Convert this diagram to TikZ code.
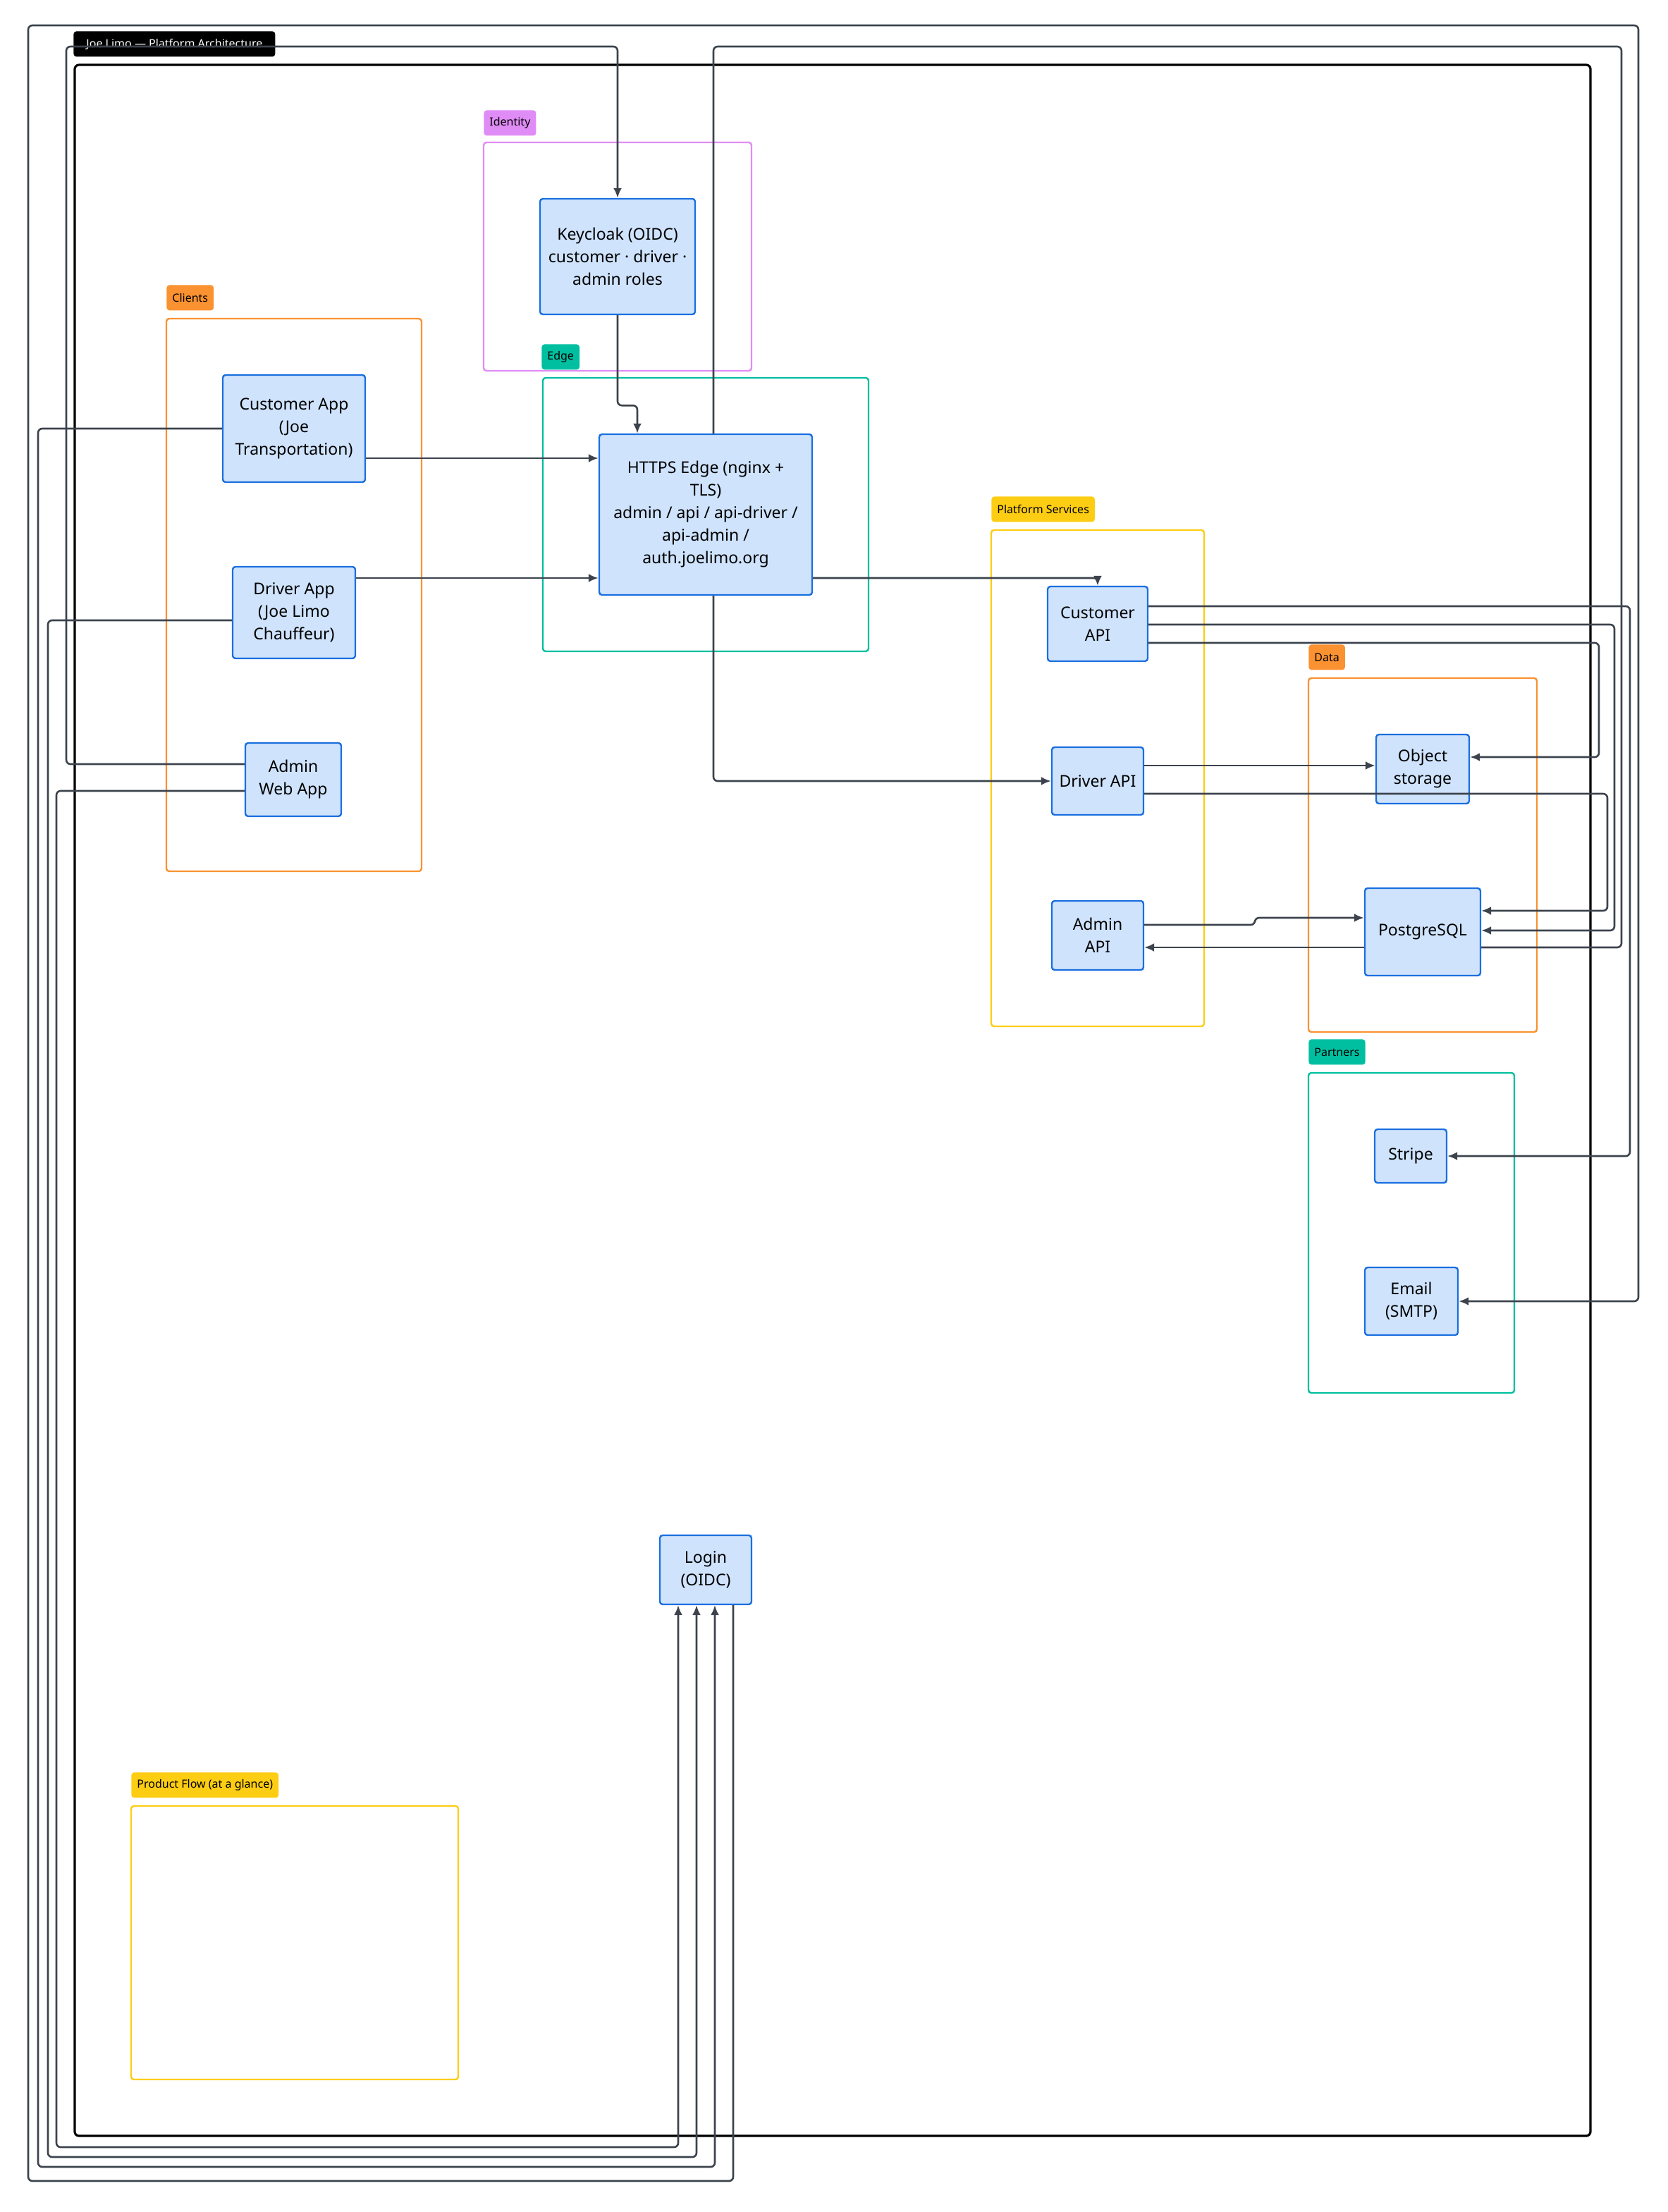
\documentclass[tikz,border=0pt]{standalone}
\usepackage{fontspec}
\setmainfont{Noto Sans}
\usepackage{tikz}
\usetikzlibrary{arrows.meta}
\definecolor{nodeFill}{HTML}{CFE3FC}
\definecolor{nodeLine}{HTML}{1A6FE0}
\definecolor{wireGray}{HTML}{3C434D}
\definecolor{grpOrange}{HTML}{FB9231}
\definecolor{grpPink}{HTML}{E08CF6}
\definecolor{grpTeal}{HTML}{00BFA0}
\definecolor{grpYellow}{HTML}{FDCD14}

\begin{document}
\begin{tikzpicture}[
  x=1pt, y=1pt,
  svc/.style={
    draw=nodeLine, fill=nodeFill, line width=1.2pt,
    rounded corners=2pt, align=center, inner sep=0pt,
    font=\fontsize{11.5}{16}\selectfont
  },
  group/.style={draw=#1, line width=1.2pt, rounded corners=2pt},
  tag/.style={
    fill=#1, rounded corners=2pt, anchor=north west,
    inner xsep=4pt, minimum height=18pt,
    font=\fontsize{8}{10}\selectfont
  },
  wire/.style={draw=wireGray, line width=1.3pt, rounded corners=3pt},
  link/.style={wire, -{Latex[length=7pt,width=6pt]}}
]
\useasboundingbox (0,0) rectangle (1183,-1569);

% frame and title
\draw[line width=1.6pt, rounded corners=3pt] (53,-46) rectangle (1128,-1515);
\node[fill=black, text=white, rounded corners=2pt, anchor=north west,
  minimum width=143pt, minimum height=18pt, inner sep=0pt,
  font=\fontsize{8}{10}\selectfont] (title) at (52,-22)
  {Joe Limo --- Platform Architecture};

% groups
\draw[group=grpPink] (343,-101) rectangle (533,-263);
\node[tag=grpPink] (tagIdentity) at (343,-78) {Identity};
\draw[group=grpOrange] (118,-226) rectangle (299,-618);
\node[tag=grpOrange] (tagClients) at (118,-202) {Clients};
\draw[group=grpTeal] (385,-268) rectangle (616,-462);
\node[tag=grpTeal] (tagEdge) at (384,-244) {Edge};
\draw[group=grpYellow] (703,-376) rectangle (854,-728);
\node[tag=grpYellow] (tagServices) at (703,-352) {Platform Services};
\draw[group=grpOrange] (928,-481) rectangle (1090,-732);
\node[tag=grpOrange] (tagData) at (928,-457) {Data};
\draw[group=grpTeal] (928,-761) rectangle (1074,-988);
\node[tag=grpTeal] (tagPartners) at (928,-737) {Partners};
\draw[group=grpYellow] (93,-1281) rectangle (325,-1475);
\node[tag=grpYellow] (tagFlow) at (93,-1257) {Product Flow (at a glance)};

% services
\node[svc, minimum width=110pt, minimum height=82pt] (keycloak) at (438,-182)
  {Keycloak (OIDC)\\customer · driver ·\\admin roles};
\node[svc, minimum width=101pt, minimum height=76pt] (custApp) at (208.5,-304)
  {Customer App\\(Joe\\Transportation)};
\node[svc, minimum width=87pt, minimum height=65pt] (drvApp) at (208.5,-434.5)
  {Driver App\\(Joe Limo\\Chauffeur)};
\node[svc, minimum width=68pt, minimum height=52pt] (adminWeb) at (208,-553)
  {Admin\\Web App};
\node[svc, minimum width=151pt, minimum height=114pt] (httpsEdge) at (500.5,-365)
  {HTTPS Edge (nginx +\\TLS)\\admin / api / api-driver /\\api-admin /\\auth.joelimo.org};
\node[svc, minimum width=71pt, minimum height=53pt] (custApi) at (778.5,-442.5)
  {Customer\\API};
\node[svc, minimum width=65pt, minimum height=48pt] (drvApi) at (778.5,-554)
  {Driver API};
\node[svc, minimum width=65pt, minimum height=49pt] (admApi) at (778.5,-663.5)
  {Admin\\API};
\node[svc, minimum width=66pt, minimum height=49pt] (objStore) at (1009,-545.5)
  {Object\\storage};
\node[svc, minimum width=82pt, minimum height=62pt] (pg) at (1009,-661)
  {PostgreSQL};
\node[svc, minimum width=51pt, minimum height=38pt] (stripe) at (1000.5,-820)
  {Stripe};
\node[svc, minimum width=66pt, minimum height=48pt] (email) at (1001,-923)
  {Email\\(SMTP)};
\node[svc, minimum width=65pt, minimum height=49pt] (login) at (500.5,-1113.5)
  {Login\\(OIDC)};

% connectors
\draw[link] (keycloak.south) -- ++(0,-64) -| ([xshift=-48.5pt]httpsEdge.north);
\draw[link] (custApp.east |- 0,-325) -- (httpsEdge.west |- 0,-325);
\draw[link] (drvApp.east |- 0,-410) -- (httpsEdge.west |- 0,-410);
\draw[link] (httpsEdge.east |- 0,-410) -| (custApi.north);
\draw[link] (httpsEdge.south -| 506,0) |- (drvApi.west);
\draw[wire] (httpsEdge.north -| 506,0) |- (1150,-33) |- (pg.east |- 0,-672);
\draw[link] (adminWeb.west |- 0,-542) -| (47,-33) -| (keycloak.north);
\draw[link] (login.south -| 520,0) |- (20,-1547) |- (1162,-18) |- (email.east);
\draw[link] (custApp.west) -| (27,-1537) -| (login.south -| 507,0);
\draw[link] (drvApp.west |- 0,-440) -| (34,-1530) -| (login.south -| 494,0);
\draw[link] (adminWeb.west |- 0,-561) -| (40,-1523) -| (login.south -| 481,0);
\draw[link] (custApi.east |- 0,-430) -| (1156,-820) -- (stripe.east);
\draw[link] (custApi.east |- 0,-443) -| (1145,-660) -- (pg.east |- 0,-660);
\draw[link] (custApi.east |- 0,-456) -| (1134,-537) -- (objStore.east |- 0,-537);
\draw[link] (drvApi.east |- 0,-543) -- (objStore.west |- 0,-543);
\draw[link] (drvApi.east |- 0,-563) -| (1140,-646) -- (pg.east |- 0,-646);
\draw[link] (admApi.east |- 0,-656) -- (890,-656) -- (890,-651) -- (pg.west |- 0,-651);
\draw[link] (pg.west |- 0,-672) -- (admApi.east |- 0,-672);
\end{tikzpicture}
\end{document}
